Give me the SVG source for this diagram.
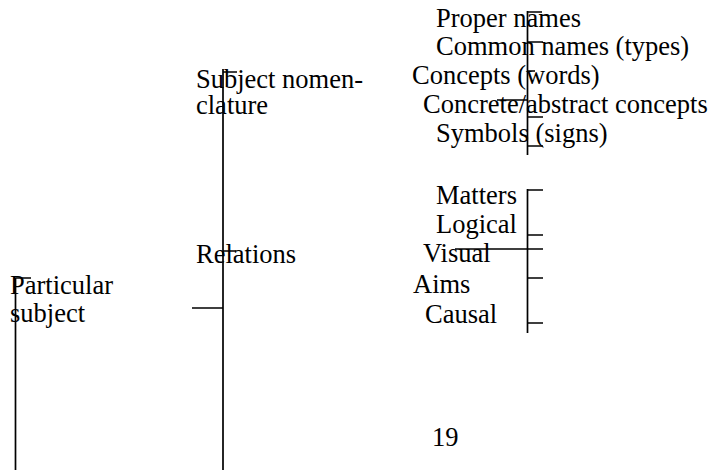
<svg xmlns="http://www.w3.org/2000/svg" width="710" height="470" viewBox="0 0 710 470">
<style>
text{font-family:"Liberation Serif","Times New Roman",serif;font-size:26.5px;fill:#000}
.ln{stroke:#000;stroke-width:1.7;fill:none}
</style>
<rect width="710" height="470" fill="#fff"/>
<g id="connectors">
<path class="ln" d="M15.5 278V470M15.5 278H31"/>
<path class="ln" d="M223 69V470M223 72H237M223 251H236M192 308H223"/>
<path class="ln" d="M527.5 11V155M527.5 12H542M527.5 42H543M527.5 71H535M497 100H527.5M527.5 117H543M527.5 146H543"/>
<path class="ln" d="M527.5 189V333M527.5 190H543M527.5 235H543M455 249H543M527.5 278H543M527.5 323H543"/>
</g>
<g id="particular"><text x="10" y="294">Particular</text><text x="10" y="322">subject</text></g>
<g id="subject-nomenclature"><text x="196" y="88">Subject nomen-</text><text x="196" y="114">clature</text></g>
<g id="relations"><text x="196" y="263">Relations</text></g>
<g id="proper-names"><text x="436" y="27">Proper names</text></g>
<g id="common-names"><text x="436" y="55">Common names (types)</text></g>
<g id="concepts"><text x="412" y="84">Concepts (words)</text></g>
<g id="concrete-abstract"><text x="423" y="113">Concrete/abstract concepts</text></g>
<g id="symbols"><text x="436" y="142">Symbols (signs)</text></g>
<g id="matters"><text x="436" y="204">Matters</text></g>
<g id="logical"><text x="436" y="233">Logical</text></g>
<g id="visual"><text x="423" y="262">Visual</text></g>
<g id="aims"><text x="413" y="293">Aims</text></g>
<g id="causal"><text x="425" y="323">Causal</text></g>
<g id="page-number"><text x="432" y="446">19</text></g>
</svg>
